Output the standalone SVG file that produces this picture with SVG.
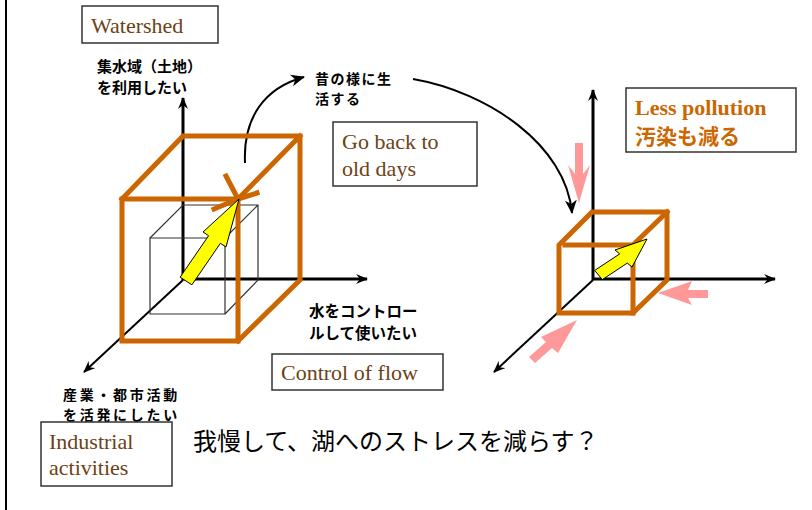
<svg xmlns="http://www.w3.org/2000/svg" width="812" height="510" viewBox="0 0 812 510">
<defs>
<marker id="ah" viewBox="0 0 12 10" refX="11" refY="5" markerWidth="12" markerHeight="10" markerUnits="userSpaceOnUse" orient="auto">
<path d="M0,0 L12,5 L0,10 L4,5 Z" fill="#000"/>
</marker>
<marker id="ahc" viewBox="0 0 14 12" refX="13" refY="6" markerWidth="14" markerHeight="12" markerUnits="userSpaceOnUse" orient="auto">
<path d="M0,0 L14,6 L0,12 L4,6 Z" fill="#000"/>
</marker>
<style>
.axis{stroke:#000;stroke-width:3;fill:none}
.axisd{stroke:#000;stroke-width:2;fill:none}
.cube{stroke:#CC6600;stroke-width:5;fill:none;stroke-linecap:square;stroke-linejoin:miter}
.thin{stroke:#333;stroke-width:1.2;fill:none}
.curve{stroke:#000;stroke-width:2;fill:none}
.yel{fill:#FFFF00;stroke:#000;stroke-width:1}
.pink{fill:#FF9999}
.box{fill:#fff;stroke:#333;stroke-width:1.5}
.en{font-family:"Liberation Serif","Times New Roman",serif;font-size:22px;fill:#6E4214}
.jp{font-family:"Noto Sans CJK JP",sans-serif;font-weight:bold;font-size:15px;fill:#000}
.lp{font-family:"Liberation Serif","Times New Roman",serif;font-weight:bold;font-size:22px;fill:#CC6600}
.lpj{font-family:"Noto Sans CJK JP",sans-serif;font-weight:bold;font-size:21px;fill:#CC6600}
.q{font-family:"Noto Sans CJK JP",sans-serif;font-size:24px;fill:#000}
</style>
</defs>
<rect width="812" height="510" fill="#fff"/>
<line x1="6" y1="0" x2="6" y2="510" stroke="#000" stroke-width="2"/>

<g id="connectors">
<!-- left axes -->
<line class="axis" x1="183" y1="280" x2="183" y2="98" marker-end="url(#ah)"/>
<line class="axis" x1="183" y1="279" x2="367" y2="279" marker-end="url(#ah)"/>
<line class="axisd" x1="183" y1="280" x2="84" y2="372" marker-end="url(#ah)"/>
<!-- right axes -->
<line class="axis" x1="593" y1="280" x2="593" y2="90" marker-end="url(#ah)"/>
<line class="axis" x1="593" y1="279" x2="775" y2="279" marker-end="url(#ah)"/>
<line class="axisd" x1="593" y1="280" x2="494" y2="372" marker-end="url(#ah)"/>
<!-- curved arrows -->
<path class="curve" d="M245,163 C243,118 264,88 304,77" marker-end="url(#ahc)"/>
<path class="curve" d="M413,79 C488,92 566,145 572,213" marker-end="url(#ahc)"/>
</g>

<g id="left-cube">
<g id="inner-cube">
<path class="thin" d="M150,238 L225,238 L225,314 L150,314 Z"/>
<path class="thin" d="M150,238 L183,205 L258,205 L258,280 L225,314 M225,238 L258,205"/>
</g>
<path class="cube" d="M122,199 L238,199 L238,341 L122,341 Z"/>
<path class="cube" d="M122,199 L183,136 L300,136 L300,280 L238,341 M238,199 L300,136"/>
<path class="cube" d="M226,176 L238,199 M238,199 L257,193 M238,199 L214,209" stroke-linecap="round"/>
<polygon class="yel" points="239,199 226,247 220.4,243.3 191.9,284.8 180.1,277.2 208.6,235.7 203,232"/>
</g>

<g id="right-cube">
<path class="cube" d="M559,245 L592,212 L667,212 L667,280 L633,313 L559,313 Z" stroke-linejoin="round"/>
<path class="cube" d="M565,245 L633,245 L633,313 M633,245 L667,212"/>
<polygon class="yel" points="647,239 632,267 627.3,263.1 602.3,279.6 594.7,270.4 619.7,253.9 615,250"/>
</g>

<g id="pink-arrows">
<polygon class="pink" points="575,143 583,143 583,174 590,165 579,203 568,165 575,174"/>
<polygon class="pink" points="708,290 708,298 688,298 692,305 658,293 692,281 688,290"/>
<polygon class="pink" points="577,320 558,353 552,348 535,363 529,357 546,342 541,337"/>
</g>

<g id="watershed">
<rect class="box" x="82" y="6" width="136" height="37"/>
<text class="en" x="91" y="33">Watershed</text>
</g>
<g id="label-land">
<text class="jp" x="97" y="72">集水域（土地）</text>
<text class="jp" x="97" y="93">を利用したい</text>
</g>
<g id="label-old">
<text class="jp" x="315" y="84" style="font-size:14px;letter-spacing:1.5px">昔の様に生</text>
<text class="jp" x="315" y="104" style="font-size:14px;letter-spacing:1.5px">活する</text>
</g>
<g id="goback">
<rect class="box" x="333" y="122" width="144" height="64"/>
<text class="en" x="342" y="149">Go back to</text>
<text class="en" x="342" y="176">old days</text>
</g>
<g id="less-pollution">
<rect class="box" x="626" y="88" width="170" height="64"/>
<text class="lp" x="635" y="115">Less pollution</text>
<text class="lpj" x="635" y="144">汚染も減る</text>
</g>
<g id="label-water">
<text class="jp" x="309" y="317" style="font-size:15.5px">水をコントロー</text>
<text class="jp" x="309" y="339" style="font-size:15.5px">ルして使いたい</text>
</g>
<g id="control">
<rect class="box" x="272" y="354" width="171" height="36"/>
<text class="en" x="281" y="380">Control of flow</text>
</g>
<g id="label-industry">
<text class="jp" x="63" y="400" style="font-size:14px;letter-spacing:2.7px">産業・都市活動</text>
<text class="jp" x="63" y="420" style="font-size:14px;letter-spacing:2.7px">を活発にしたい</text>
</g>
<g id="industrial">
<rect class="box" x="41" y="422" width="131" height="64"/>
<text class="en" x="49" y="449">Industrial</text>
<text class="en" x="49" y="475">activities</text>
</g>
<g id="question">
<text class="q" x="193" y="450">我慢して、湖へのストレスを減らす？</text>
</g>
</svg>
